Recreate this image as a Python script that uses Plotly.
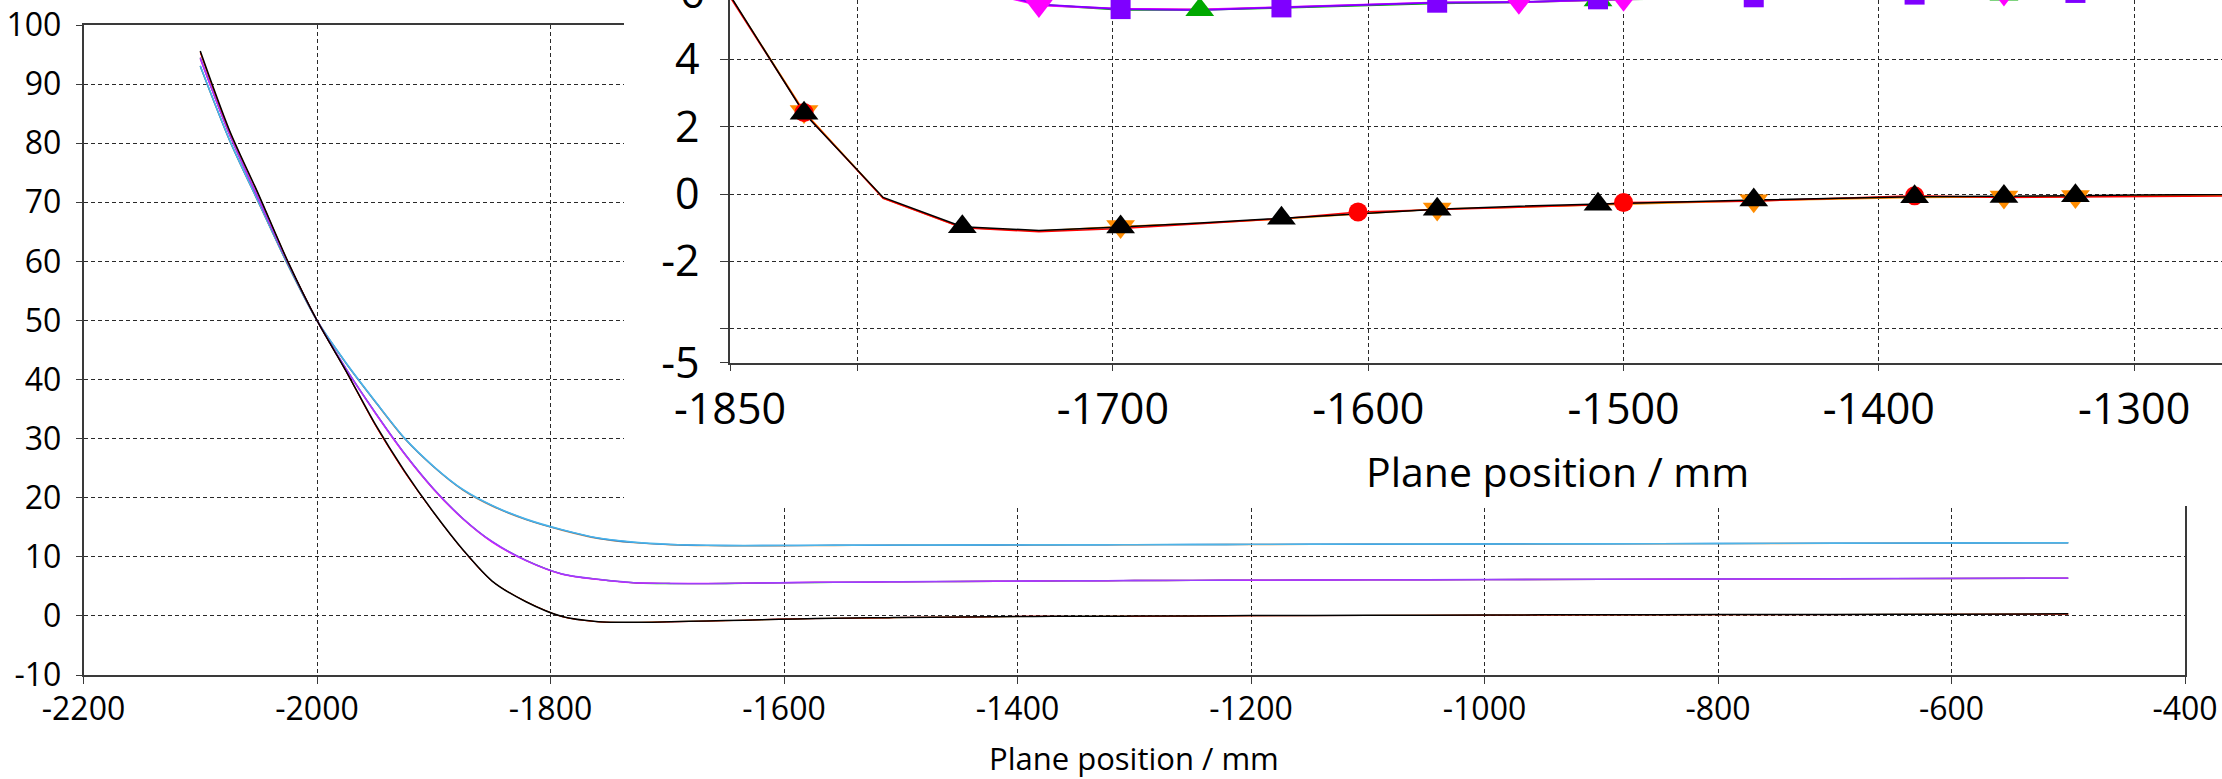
import plotly.graph_objects as go

W, H = 2222, 779

# Plane positions (mm) shared by every profile
POS = [-2100, -2075, -2050, -2025, -2000, -1975, -1950, -1925, -1900, -1875,
       -1850, -1821, -1790, -1759, -1729, -1697, -1666, -1634, -1604, -1573,
       -1541, -1510, -1500, -1449, -1386, -1351, -1323, -1300, -1250, -1200,
       -1100, -1000, -900, -800, -700, -600, -500]

# Lower family (settles near 0)
BLACK = [95.6, 82.2, 71.3, 60.0, 50.0, 41.4, 32.4, 24.5, 17.5, 11.2,
         5.9, 2.4, -0.1, -0.97, -1.08, -0.98, -0.86, -0.72, -0.57, -0.45,
         -0.36, -0.30, -0.27, -0.18, -0.08, -0.07, -0.05, -0.03, 0.0, 0.05,
         0.1, 0.15, 0.2, 0.22, 0.25, 0.3, 0.35]
RED = [95.3, 82.0, 71.2, 60.0, 50.0, 41.3, 32.2, 24.3, 17.4, 11.1,
       5.85, 2.42, -0.13, -1.0, -1.12, -1.02, -0.88, -0.73, -0.53, -0.46,
       -0.38, -0.32, -0.25, -0.21, -0.05, -0.1, -0.09, -0.07, -0.03, 0.02,
       0.07, 0.12, 0.17, 0.2, 0.22, 0.26, 0.3]
ORANGE = [95.4, 82.1, 71.25, 60.0, 50.0, 41.35, 32.3, 24.4, 17.45, 11.15,
          5.88, 2.45, -0.12, -0.99, -1.1, -0.96, -0.87, -0.74, -0.59, -0.44,
          -0.39, -0.33, -0.29, -0.2, -0.1, -0.09, -0.07, -0.05, -0.02, 0.03,
          0.08, 0.14, 0.18, 0.21, 0.24, 0.28, 0.33]

# Middle family (settles near 6)
VIOLET = [94.5, 81.6, 70.6, 59.8, 50.0, 41.8, 34.4, 27.5, 21.5, 16.5,
          12.6, 9.4, 7.1, 6.2, 5.63, 5.49, 5.46, 5.54, 5.6, 5.68,
          5.7, 5.78, 5.79, 5.84, 5.92, 5.95, 5.97, 5.99, 6.02, 6.05,
          6.1, 6.15, 6.2, 6.25, 6.3, 6.35, 6.4]
MAGENTA = [94.3, 81.5, 70.5, 59.8, 50.0, 41.7, 34.3, 27.4, 21.4, 16.4,
           12.5, 9.35, 7.05, 6.15, 5.6, 5.5, 5.48, 5.55, 5.62, 5.69,
           5.69, 5.77, 5.78, 5.83, 5.91, 5.94, 5.96, 5.98, 6.01, 6.04,
           6.09, 6.14, 6.19, 6.22, 6.27, 6.34, 6.39]
GREEN = [94.4, 81.5, 70.5, 59.7, 50.0, 41.75, 34.35, 27.45, 21.45, 16.45,
         12.55, 9.4, 7.08, 6.18, 5.62, 5.47, 5.47, 5.53, 5.59, 5.66,
         5.69, 5.76, 5.78, 5.82, 5.9, 5.93, 5.96, 5.98, 6.01, 6.04,
         6.09, 6.14, 6.18, 6.24, 6.29, 6.34, 6.39]

# Upper family (settles near 12)
SKY = [93.1, 80.6, 70.0, 59.5, 50.0, 42.8, 36.3, 30.1, 25.3, 21.4,
       18.7, 16.4, 14.6, 13.2, 12.5, 12.1, 11.95, 11.92, 11.93, 11.95,
       11.97, 11.98, 11.99, 12.0, 12.03, 12.05, 12.06, 12.07, 12.09, 12.1,
       12.14, 12.18, 12.22, 12.26, 12.3, 12.34, 12.38]
TAN = [93.0, 80.5, 69.9, 59.4, 50.0, 42.7, 36.2, 30.0, 25.2, 21.3,
       18.6, 16.3, 14.5, 13.1, 12.4, 12.05, 11.9, 11.88, 11.88, 11.9,
       11.94, 11.95, 11.97, 11.98, 12.0, 12.02, 12.03, 12.05, 12.07, 12.08,
       12.12, 12.16, 12.2, 12.23, 12.27, 12.32, 12.37]
AZURE = [93.05, 80.55, 69.95, 59.45, 50.0, 42.75, 36.25, 30.05, 25.25, 21.35,
         18.65, 16.35, 14.55, 13.15, 12.45, 12.08, 11.93, 11.9, 11.91, 11.93,
         11.96, 11.97, 11.98, 11.99, 12.02, 12.04, 12.05, 12.06, 12.08, 12.1,
         12.13, 12.17, 12.21, 12.25, 12.29, 12.33, 12.38]

# Positions that carry a symbol in the zoomed view
BLACK_MARKS = [-1821, -1759, -1697, -1634, -1573, -1510, -1449, -1386, -1351, -1323]
RED_MARKS = [-1821, -1604, -1500, -1386]
ORANGE_MARKS = [-1821, -1697, -1573, -1449, -1351, -1323]
VIOLET_MARKS = [-1697, -1634, -1573, -1510, -1449, -1386, -1323]
MAGENTA_MARKS = [-1729, -1541, -1500, -1351]
GREEN_MARKS = [-1666, -1510, -1351, -1300]

MAIN_X_TICKS = [-2200, -2000, -1800, -1600, -1400, -1200, -1000, -800, -600, -400]
MAIN_Y_TICKS = [-10, 0, 10, 20, 30, 40, 50, 60, 70, 80, 90, 100]
INSET_X_TICKS = [-1850, -1800, -1700, -1600, -1500, -1400, -1300]
INSET_X_LABELS = ["-1850", "", "-1700", "-1600", "-1500", "-1400", "-1300"]
INSET_Y_TICKS = [-5, -4, -2, 0, 2, 4]
INSET_Y_LABELS = ["-5", "", "-2", "0", "2", "4"]
INSET_Y_TOP_LABEL = 6
X_TITLE = "Plane position / mm"

FONT = "Open Sans, Noto Sans, DejaVu Sans, sans-serif"
AXIS_COL = "#3a3a3a"
GRID_COL = "#2a2a2a"

# draw order inside each family: last one ends up on top
MAIN_SERIES = [
    (TAN, "#c8874a", 1.4), (AZURE, "#1e88e5", 1.4), (SKY, "#4cb4e8", 1.4),
    (GREEN, "#10a010", 1.4), (MAGENTA, "#ff00ff", 1.4), (VIOLET, "#9a40ff", 1.4),
    (ORANGE, "#ff8c00", 1.0), (RED, "#ff0000", 1.0), (BLACK, "#000000", 1.5),
]
INSET_SERIES = [
    (GREEN, GREEN_MARKS, "#00a800", "triangle-up", 25, 1.8),
    (MAGENTA, MAGENTA_MARKS, "#ff00ff", "triangle-down", 25, 1.8),
    (VIOLET, VIOLET_MARKS, "#7f00ff", "square", 20, 1.8),
    (ORANGE, ORANGE_MARKS, "#ff8c00", "triangle-down", 25, 1.5),
    (RED, RED_MARKS, "#ff0000", "circle", 19, 1.5),
    (BLACK, BLACK_MARKS, "#000000", "triangle-up", 25, 1.5),
]

fig = go.Figure()

for ys, col, lw in MAIN_SERIES:
    fig.add_trace(go.Scatter(x=POS, y=ys, mode="lines", xaxis="x", yaxis="y",
                             line=dict(color=col, width=lw, shape="spline", smoothing=0.8),
                             hoverinfo="skip"))

# blank panel that hides the main grid behind the zoomed view
fig.add_trace(go.Scatter(x=[None], y=[None], mode="lines", xaxis="x2", yaxis="y2",
                         hoverinfo="skip"))

for ys, marks, col, sym, size, lw in INSET_SERIES:
    fig.add_trace(go.Scatter(x=POS, y=ys, mode="lines", xaxis="x3", yaxis="y3",
                             line=dict(color=col, width=lw), hoverinfo="skip"))
for ys, marks, col, sym, size, lw in INSET_SERIES:
    my = [ys[POS.index(p)] for p in marks]
    fig.add_trace(go.Scatter(x=marks, y=my, mode="markers", xaxis="x3", yaxis="y3",
                             marker=dict(symbol=sym, size=size, color=col,
                                         line=dict(width=0)),
                             hoverinfo="skip"))

# pixel frame of the panels
main_x = [83.5 / W, 2185 / W]
main_y = [(H - 675) / H, (H - 25) / H]
cover_x = [624 / W, 1.0]
cover_y = [(H - 506) / H, 1.0]
inset_x = [730 / W, 1.0]
inset_y = [(H - 362.5) / H, 1.0]
inset_xr = [-1850, -1850 + (W - 730) / 2.553]
inset_yr = [-5, 5.76]

common = dict(showline=True, linecolor=AXIS_COL, ticks="outside", tickcolor=AXIS_COL,
              showgrid=True, gridcolor=GRID_COL, gridwidth=1, griddash="4px,3px",
              zeroline=False, automargin=False, fixedrange=True)

fig.update_layout(
    width=W, height=H, margin=dict(l=0, r=0, t=0, b=0),
    paper_bgcolor="white", plot_bgcolor="white", showlegend=False,
    font=dict(family=FONT, color="black"),
    xaxis=dict(domain=main_x, anchor="y", range=[-2200, -400],
               tickvals=MAIN_X_TICKS, ticktext=[str(v) for v in MAIN_X_TICKS],
               mirror=True, linewidth=1.5, ticklen=7, tickwidth=1.2,
               ticklabelstandoff=-2, tickfont=dict(size=32), **common),
    yaxis=dict(domain=main_y, anchor="x", range=[-10, 100],
               tickvals=MAIN_Y_TICKS, ticktext=[str(v) for v in MAIN_Y_TICKS],
               mirror=True, linewidth=1.5, ticklen=6, tickwidth=1.2,
               ticklabelstandoff=8, tickfont=dict(size=32), **common),
    xaxis2=dict(domain=cover_x, anchor="y2", range=[0, 1], visible=False, fixedrange=True),
    yaxis2=dict(domain=cover_y, anchor="x2", range=[0, 1], visible=False, fixedrange=True),
    xaxis3=dict(domain=inset_x, anchor="y3", range=inset_xr,
                tickvals=INSET_X_TICKS, ticktext=INSET_X_LABELS,
                linewidth=1.5, ticklen=7, tickwidth=1.2, ticklabelstandoff=1,
                tickfont=dict(size=43), **common),
    yaxis3=dict(domain=inset_y, anchor="x3", range=inset_yr,
                tickvals=INSET_Y_TICKS, ticktext=INSET_Y_LABELS,
                linewidth=1.5, ticklen=8, tickwidth=1.2, ticklabelstandoff=12,
                tickfont=dict(size=43), **common),
)

# label for the top inset tick, which sits just past the clipped edge
top_frac = inset_y[0] + (INSET_Y_TOP_LABEL - inset_yr[0]) / (inset_yr[1] - inset_yr[0]) * (inset_y[1] - inset_y[0])
fig.add_annotation(text=str(INSET_Y_TOP_LABEL), xref="paper", yref="paper",
                   x=707 / W, y=top_frac, xanchor="right", yanchor="middle",
                   showarrow=False, font=dict(size=43))

fig.add_annotation(text=X_TITLE, xref="paper", yref="paper",
                   x=1134 / W, y=(H - 758) / H, xanchor="center", yanchor="middle",
                   showarrow=False, font=dict(size=31))
fig.add_annotation(text=X_TITLE, xref="paper", yref="paper",
                   x=1557 / W, y=(H - 471) / H, xanchor="center", yanchor="middle",
                   showarrow=False, font=dict(size=41))

fig.write_html("out.html")
